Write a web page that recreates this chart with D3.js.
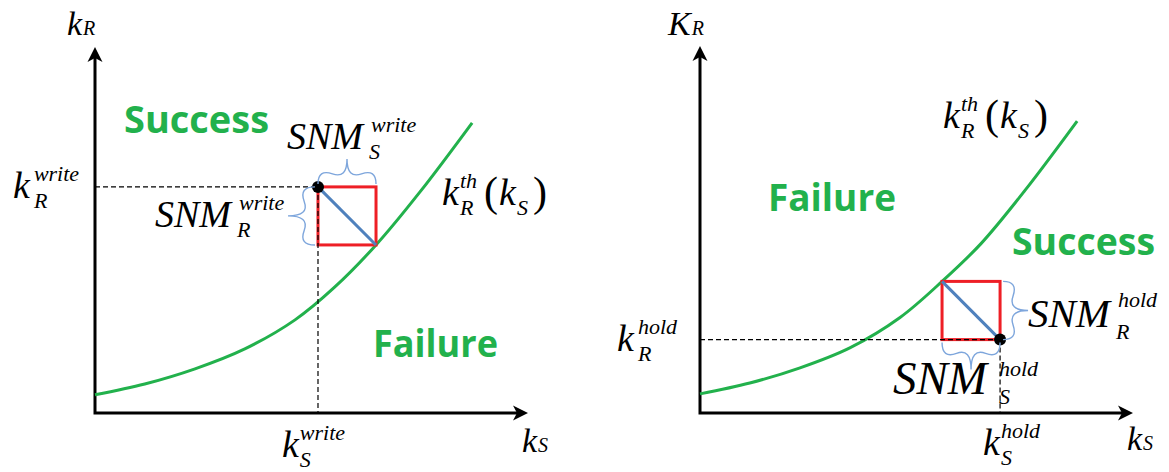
<!DOCTYPE html>
<html>
<head>
<meta charset="utf-8">
<script src="https://cdn.jsdelivr.net/npm/d3@7"></script>
<style>
  html, body { margin: 0; padding: 0; background: #fff; }
  svg { display: block; }
  .math { font-family: "Liberation Serif", "Times New Roman", serif; font-style: italic; fill: #000; }
  .roman { font-family: "Liberation Serif", "Times New Roman", serif; font-style: normal; fill: #000; }
  .region { font-family: "Open Sans", sans-serif; font-weight: 700; fill: #22b14c; }
</style>
</head>
<body>
<svg id="chart" width="1169" height="472"></svg>
<script>
// Write-margin diagram: threshold curve k_R^th(k_S)
const writeKs   = [0, 1.15, 2.31, 3.46, 4.62, 5.54, 6.49, 7.51, 8.71];
const writeKrTh = [0.42, 0.67, 1.02, 1.48, 2.15, 2.91, 3.88, 5.11, 6.70];
const writePoint = [5.15, 5.22];   // [k_S^write, k_R^write]
const writeSNM   = [1.34, 1.34];   // [SNM_S^write, SNM_R^write]

// Hold-margin diagram: threshold curve k_R^th(k_S)
const holdKs   = [0, 1.15, 2.31, 3.46, 4.62, 5.59, 6.49, 7.51, 8.71];
const holdKrTh = [0.44, 0.69, 1.04, 1.50, 2.20, 3.03, 3.90, 5.13, 6.72];
const holdPoint = [6.93, 1.69];    // [k_S^hold, k_R^hold]
const holdSNM   = [1.34, 1.34];    // [SNM_S^hold, SNM_R^hold]

const regionLabels = ["Success", "Failure"];

const svg = d3.select("#chart");
svg.append("rect").attr("width", 1169).attr("height", 472).attr("fill", "#fff");

const GREEN = "#22b14c", RED = "#ee1f26", BLUE = "#4f81bd", BRACE = "#7ea6dc";

function arrowHead(g, x, y, angle) {
  g.append("path")
    .attr("d", "M0,0 L-15,-7.5 L-11,0 L-15,7.5 Z")
    .attr("transform", `translate(${x},${y}) rotate(${angle})`)
    .attr("fill", "#000");
}

function drawAxes(g, x, y) {
  const [x0, x1] = x.domain(), [y0, y1] = y.domain();
  g.append("path")
    .attr("d", `M${x(x0)},${y(y1) + 10} L${x(x0)},${y(y0)} L${x(x1) - 10},${y(y0)}`)
    .attr("fill", "none").attr("stroke", "#000").attr("stroke-width", 3)
    .attr("stroke-linejoin", "miter");
  arrowHead(g, x(x0), y(y1), -90);
  arrowHead(g, x(x1), y(y0), 0);
}

function brace(x1, y1, x2, y2, w, q) {
  const len = Math.hypot(x2 - x1, y2 - y1);
  const dx = (x1 - x2) / len, dy = (y1 - y2) / len;
  const qx1 = x1 + q * w * dy, qy1 = y1 - q * w * dx;
  const qx2 = (x1 - .25 * len * dx) + (1 - q) * w * dy, qy2 = (y1 - .25 * len * dy) - (1 - q) * w * dx;
  const tx1 = (x1 - .5 * len * dx) + w * dy, ty1 = (y1 - .5 * len * dy) - w * dx;
  const qx3 = x2 + q * w * dy, qy3 = y2 - q * w * dx;
  const qx4 = (x1 - .75 * len * dx) + (1 - q) * w * dy, qy4 = (y1 - .75 * len * dy) - (1 - q) * w * dx;
  return `M${x1},${y1}Q${qx1},${qy1} ${qx2},${qy2}T${tx1},${ty1}` +
         `M${x2},${y2}Q${qx3},${qy3} ${qx4},${qy4}T${tx1},${ty1}`;
}

function drawBrace(g, x1, y1, x2, y2, w) {
  g.append("path").attr("d", brace(x1, y1, x2, y2, w, 0.6))
    .attr("fill", "none").attr("stroke", BRACE).attr("stroke-width", 1.4);
}

// italic base with stacked superscript / subscript; returns right edge
function mathLabel(g, x, y, base, sup, sub, o = {}) {
  const size = o.size || 38, small = o.small || 22;
  const t = g.append("text").attr("class", "math").attr("x", x).attr("y", y)
    .style("font-size", size + "px").text(base);
  const sx = x + t.node().getComputedTextLength() + (o.gap ?? 1);
  let right = sx;
  if (sup) {
    const s = g.append("text").attr("class", "math").attr("x", sx + (o.supDx || 0)).attr("y", y - (o.supUp || 17))
      .style("font-size", small + "px").text(sup);
    right = Math.max(right, sx + (o.supDx || 0) + s.node().getComputedTextLength());
  }
  if (sub) {
    const s = g.append("text").attr("class", "math").attr("x", sx + (o.subDx || 0)).attr("y", y + (o.subDown || 10))
      .style("font-size", small + "px").text(sub);
    right = Math.max(right, sx + (o.subDx || 0) + s.node().getComputedTextLength());
  }
  return right;
}

// k_R^th(k_S)
function thresholdLabel(g, x, y) {
  let r = mathLabel(g, x, y, "k", "th", "R", { gap: 1 });
  const p1 = g.append("text").attr("class", "roman").attr("x", r + 7).attr("y", y + 1)
    .style("font-size", "42px").text("(");
  r = r + 7 + p1.node().getComputedTextLength();
  r = mathLabel(g, r + 1, y, "k", null, "S", { gap: 1 });
  g.append("text").attr("class", "roman").attr("x", r + 5).attr("y", y + 1)
    .style("font-size", "42px").text(")");
}

// axis name: k followed by small R / S on the same baseline
function axisName(g, x, y, base, small) {
  const t = g.append("text").attr("class", "math").attr("x", x).attr("y", y)
    .style("font-size", "34px").text(base);
  g.append("text").attr("class", "math")
    .attr("x", x + t.node().getComputedTextLength() + 1).attr("y", y)
    .style("font-size", "20px").text(small);
}

function regionText(g, x, y, label, len) {
  g.append("text").attr("class", "region").attr("x", x).attr("y", y)
    .style("font-size", "38px")
    .attr("textLength", len).attr("lengthAdjust", "spacingAndGlyphs")
    .text(label);
}

function drawCurve(g, x, y, ks, kr) {
  const pts = ks.map((k, i) => [k, kr[i]]);
  g.append("path")
    .attr("d", d3.line().x(d => x(d[0])).y(d => y(d[1])).curve(d3.curveCatmullRom.alpha(0.5))(pts))
    .attr("fill", "none").attr("stroke", GREEN).attr("stroke-width", 3);
}

/* ---------------- left panel: write ---------------- */
{
  const x = d3.scaleLinear().domain([0, 10]).range([95, 528]);
  const y = d3.scaleLinear().domain([0, 8.45]).range([413, 47]);
  const g = svg.append("g");

  drawAxes(g, x, y);
  drawCurve(g, x, y, writeKs, writeKrTh);

  const [ks, kr] = writePoint, [ds, dr] = writeSNM;
  // margin square from the write point to the curve
  g.append("rect")
    .attr("x", x(ks)).attr("y", y(kr))
    .attr("width", x(ks + ds) - x(ks)).attr("height", y(kr - dr) - y(kr))
    .attr("fill", "none").attr("stroke", RED).attr("stroke-width", 3);
  g.append("line")
    .attr("x1", x(ks)).attr("y1", y(kr)).attr("x2", x(ks + ds)).attr("y2", y(kr - dr))
    .attr("stroke", BLUE).attr("stroke-width", 3);

  // projections of the write point
  g.append("path")
    .attr("d", `M${x(0)},${y(kr)}H${x(ks)}M${x(ks)},${y(kr)}V${y(0)}`)
    .attr("fill", "none").attr("stroke", "#000").attr("stroke-width", 1.2)
    .attr("stroke-dasharray", "5,3");
  g.append("circle").attr("cx", x(ks)).attr("cy", y(kr)).attr("r", 6).attr("fill", "#000");

  drawBrace(g, x(ks + ds), y(kr) - 3, x(ks), y(kr) - 3, 25);
  drawBrace(g, x(ks) - 3, y(kr), x(ks) - 3, y(kr - dr), 27);

  mathLabel(g, 287, 149, "SNM", "write", "S", { gap: 8, subDx: -2 });
  mathLabel(g, 155, 227, "SNM", "write", "R", { gap: 8, subDx: -2 });
  mathLabel(g, x(0) - 82, y(kr) + 11, "k", "write", "R", { gap: 4 });
  mathLabel(g, x(ks) - 36, 457, "k", "write", "S", { gap: 1 });
  thresholdLabel(g, 442, 205);

  axisName(g, 67, 35, "k", "R");
  axisName(g, 522, 452, "k", "S");

  regionText(g, 124, 133, regionLabels[0], 145);
  regionText(g, 373, 357, regionLabels[1], 125);
}

/* ---------------- right panel: hold ---------------- */
{
  const x = d3.scaleLinear().domain([0, 10]).range([700, 1133]);
  const y = d3.scaleLinear().domain([0, 8.45]).range([413, 46]);
  const g = svg.append("g");

  drawAxes(g, x, y);
  drawCurve(g, x, y, holdKs, holdKrTh);

  const [ks, kr] = holdPoint, [ds, dr] = holdSNM;
  g.append("rect")
    .attr("x", x(ks - ds)).attr("y", y(kr + dr))
    .attr("width", x(ks) - x(ks - ds)).attr("height", y(kr) - y(kr + dr))
    .attr("fill", "none").attr("stroke", RED).attr("stroke-width", 3);
  g.append("line")
    .attr("x1", x(ks - ds)).attr("y1", y(kr + dr)).attr("x2", x(ks)).attr("y2", y(kr))
    .attr("stroke", BLUE).attr("stroke-width", 3);

  g.append("path")
    .attr("d", `M${x(0)},${y(kr)}H${x(ks)}M${x(ks)},${y(kr)}V${y(0)}`)
    .attr("fill", "none").attr("stroke", "#000").attr("stroke-width", 1.2)
    .attr("stroke-dasharray", "5,3");
  g.append("circle").attr("cx", x(ks)).attr("cy", y(kr)).attr("r", 6).attr("fill", "#000");

  drawBrace(g, x(ks) + 3, y(kr), x(ks) + 3, y(kr + dr), 25);
  drawBrace(g, x(ks - ds), y(kr) + 3, x(ks), y(kr) + 3, 27);

  mathLabel(g, 1028, 327, "SNM", "hold", "R", { size: 41, gap: 8, subDx: -2, supUp: 20, subDown: 12 });
  mathLabel(g, 893, 394, "SNM", "hold", "S", { size: 47, gap: 12, subDx: 0, supUp: 18, subDown: 10 });
  mathLabel(g, x(0) - 83, y(kr) + 11, "k", "hold", "R", { gap: 4 });
  mathLabel(g, x(ks) - 17, 455, "k", "hold", "S", { gap: 1 });
  thresholdLabel(g, 943, 128);

  axisName(g, 668, 35, "K", "R");
  axisName(g, 1127, 450, "k", "S");

  regionText(g, 768, 211, regionLabels[1], 128);
  regionText(g, 1012, 255, regionLabels[0], 143);
}
</script>
</body>
</html>
